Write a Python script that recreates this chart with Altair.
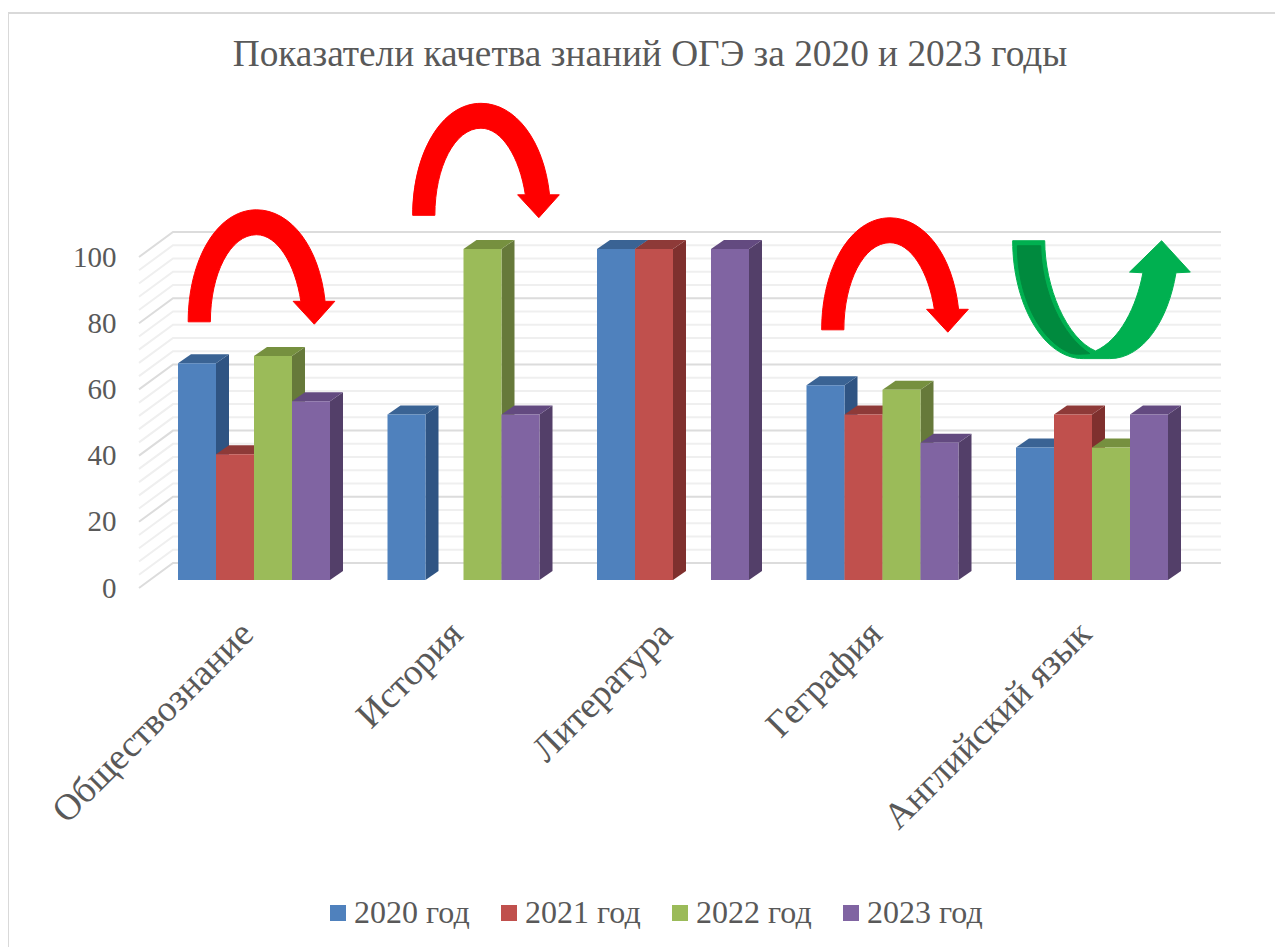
import altair as alt
import pandas as pd

TITLE = "Показатели качетва знаний ОГЭ за 2020 и 2023 годы"
categories = ["Обществознание", "История", "Литература", "Геграфия", "Английский язык"]
years = ["2020 год", "2021 год", "2022 год", "2023 год"]
values_2020 = [65.5, 50, 100, 58.8, 40]
values_2021 = [38, None, 100, 50, 50]
values_2022 = [67.7, 100, None, 57.5, 40]
values_2023 = [54, 50, 100, 41.5, 50]
series = [values_2020, values_2021, values_2022, values_2023]

front_colors = ["#4f81bd", "#c0504d", "#9bbb59", "#8064a2"]
side_colors = ["#2f5483", "#7f302e", "#66793a", "#533f69"]
top_colors = ["#3a6394", "#8e3a38", "#76903f", "#634a80"]

FONT = "Liberation Serif"
TEXT = "#595959"
STEP, GAP, BAR, DX = 209.5, 39, 38, 13
PX = 3.31
BASE, DV = 8 / PX, 9 / PX
WALL_DX, WALL_DV = 34, 25 / PX
W, H = 1082, 357

xs = alt.Scale(domain=[0, W], range=[0, W], nice=False, zero=False)
ys = alt.Scale(domain=[0, H / PX], nice=False, zero=False)
X = alt.X("x:Q", scale=xs, axis=None)
X2 = alt.X2("x2:Q")
Y = alt.Y("y:Q", scale=ys, stack=None, title=None,
          axis=alt.Axis(values=[0, 20, 40, 60, 80, 100], grid=False, domain=False, ticks=False,
                        labelFont=FONT, labelFontSize=29, labelColor=TEXT, labelPadding=23, title=None))
Y2 = alt.Y2("y2:Q")

# back wall and left wall grid
grid = []
for v in range(0, 101, 4):
    for gx, dv in [(0, 0), (WALL_DX, WALL_DV), (W, WALL_DV)]:
        grid.append({"x": gx, "y": v + dv, "v": v, "major": v % 20 == 0})
grid = pd.DataFrame(grid)
minor_layer = alt.Chart(grid[~grid.major]).mark_line(color="#efefef", strokeWidth=2).encode(x=X, y=Y, detail="v:N")
major_layer = alt.Chart(grid[grid.major]).mark_line(color="#dcdcdc", strokeWidth=2).encode(x=X, y=Y, detail="v:N")

color = alt.Color("year:N", scale=alt.Scale(domain=years, range=front_colors),
                  legend=alt.Legend(orient="none", legendX=183, legendY=666, direction="horizontal", columns=4,
                                    title=None, symbolType="square", symbolSize=256, symbolStrokeWidth=0,
                                    labelFont=FONT, labelFontSize=32, labelColor=TEXT, columnPadding=23,
                                    labelOffset=0, labelLimit=200, gridAlign="all"))

layers = [minor_layer, major_layer]
for s, vals in enumerate(series):
    side, top, front = [], [], []
    for c, v in enumerate(vals):
        if v is None:
            continue
        l = GAP + c * STEP + s * BAR
        r = l + BAR
        yt = v + BASE
        side += [{"x": r, "y": yt, "y2": BASE, "c": c}, {"x": r + DX, "y": yt + DV, "y2": BASE + DV, "c": c}]
        top += [{"x": l, "x2": r, "y": yt, "c": c}, {"x": l + DX, "x2": r + DX, "y": yt + DV, "c": c}]
        front.append({"x": l, "x2": r, "y": yt, "y2": BASE, "year": years[s]})
    layers.append(alt.Chart(pd.DataFrame(side)).mark_area(color=side_colors[s], orient="vertical").encode(x=X, y=Y, y2=Y2, detail="c:N"))
    layers.append(alt.Chart(pd.DataFrame(top)).mark_area(color=top_colors[s], orient="horizontal").encode(x=X, x2=X2, y=Y, detail="c:N"))
    layers.append(alt.Chart(pd.DataFrame(front)).mark_rect().encode(x=X, x2=X2, y=Y, y2=Y2, color=color))

# category labels
cat_df = pd.DataFrame({"x": [GAP + i * STEP + 2 * BAR for i in range(5)], "name": categories})
layers.append(alt.Chart(cat_df).mark_text(angle=315, align="right", baseline="middle", font=FONT, fontSize=37,
                                          color=TEXT, dx=-9).encode(x=X, y=alt.value(391), text="name:N"))


def norm(cmds, cx, cy, r):
    out = []
    for tok in cmds.split():
        if "," in tok:
            a, b = tok.split(",")
            out.append(f"{(float(a) - cx) / r:.4f},{(float(b) - cy) / r:.4f}")
        else:
            out.append(tok)
    return " ".join(out)


RED = norm("M 40,373 L 106,373 C 106,230 165,114 243,114 C 305,114 358,200 375,312 L 352,312 L 415,380 L 476,312 "
           "L 447,312 C 430,150 345,40 243,40 C 125,40 40,190 40,373 Z", 258, 210, 220)
GREEN = norm("M 99,92 L 195,92 C 195,230 260,385 347,422 C 420,390 470,290 489,188 L 449,186 L 545,92 L 631,186 L 588,188 "
             "C 565,330 490,445 390,445 L 310,445 C 190,445 99,280 99,92 Z", 365, 268, 268)
GREEN_IN = norm("M 113,107 L 183,107 C 185,240 245,375 330,430 C 300,433 280,432 270,428 C 180,390 113,260 113,107 Z", 365, 268, 268)

arrows = [
    (122.5, 36, RED, "#ff0000", 148),
    (347, -70.5, RED, "#ff0000", 148),
    (756, 44, RED, "#ff0000", 148),
    (962.5, 68.5, GREEN, "#00b050", 179),
    (962.5, 68.5, GREEN_IN, "#008a3e", 179),
]
mark_df = pd.DataFrame({"k": [0]})
for ax, ay, sh, col, wid in arrows:
    layers.append(alt.Chart(mark_df).mark_point(shape=sh, filled=True, fill=col, stroke=col, strokeWidth=1,
                                                strokeJoin="round", opacity=1, size=wid ** 2).encode(
        x=alt.value(ax), y=alt.value(ay)))

# outer frame of the pasted chart
layers.append(alt.Chart(mark_df).mark_rule(color="#d9d9d9", strokeWidth=2).encode(
    x=alt.value(-131), y=alt.value(-218), x2=alt.value(1136)))
layers.append(alt.Chart(mark_df).mark_rule(color="#d9d9d9", strokeWidth=2).encode(
    x=alt.value(-131), y=alt.value(-218), y2=alt.value(716)))

chart = alt.layer(*layers).resolve_scale(x="shared", y="shared").properties(
    width=W, height=H,
    padding={"left": 131, "top": 223, "right": 54, "bottom": 359},
    autosize=alt.AutoSizeParams(type="none"),
    title=alt.Title(TITLE, font=FONT, fontSize=37.3, fontWeight="normal", color=TEXT, anchor="middle", dx=-30, offset=0, dy=62),
).configure_view(stroke=None)

chart.save("out.html", embed_options={"renderer": "svg", "actions": False})
